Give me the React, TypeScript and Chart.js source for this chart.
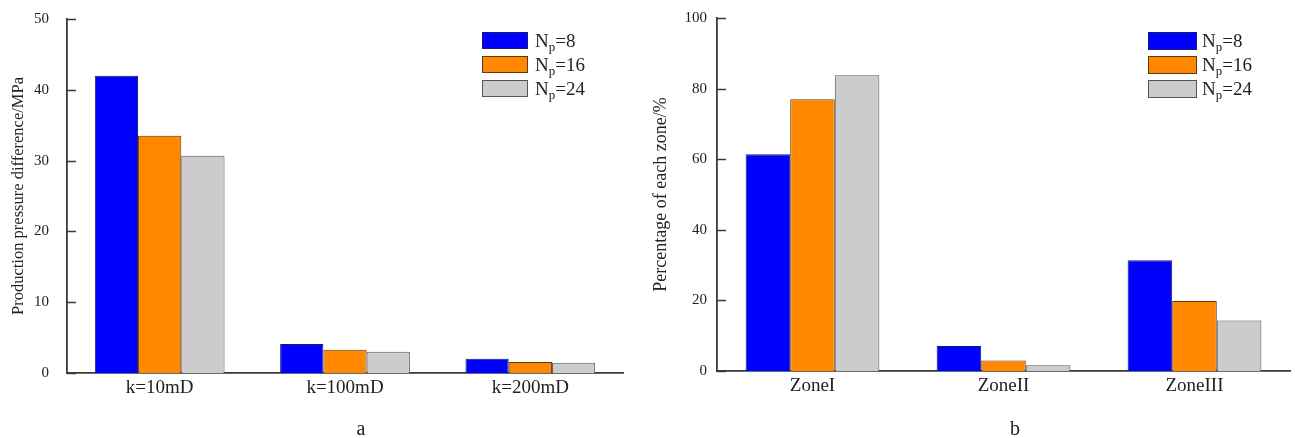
import React, { useEffect, useRef } from "react";
import { Chart, registerables } from "chart.js";

Chart.register(...registerables);

// ---------- data ----------
const permeabilityLabels = ["k=10mD", "k=100mD", "k=200mD"];
const zoneLabels = ["ZoneI", "ZoneII", "ZoneIII"];
const npValues = ["8", "16", "24"];

const pressureNp8 = [42.0, 4.1, 2.0];
const pressureNp16 = [33.5, 3.3, 1.55];
const pressureNp24 = [30.7, 3.0, 1.45];

const zoneNp8 = [61.4, 7.1, 31.4];
const zoneNp16 = [77.0, 2.95, 19.8];
const zoneNp24 = [83.8, 1.6, 14.3];

const pressureTickStep = 10;
const pressureMax = 50;
const zoneTickStep = 20;
const zoneMax = 100;

const pressureTitle = "Production pressure difference/MPa";
const zoneTitle = "Percentage of each zone/%";

// ---------- styles ----------
const FONT = "'Liberation Serif', 'Times New Roman', serif";
const fillColors = ["#0000ff", "#ff8800", "#cccccc"];
const edgeColors = ["#1a1a70", "#5a3a10", "#555555"];
const AXIS = "#3a3a3a";
const TEXT = "#222222";

type LegendCfg = { x: number; y: number; boxW: number; boxH: number; row: number; gap: number };

function makeLegendPlugin(cfg: LegendCfg) {
  return {
    id: "insideLegend",
    afterDraw(chart: any) {
      const ctx = chart.ctx;
      ctx.save();
      chart.data.datasets.forEach((ds: any, i: number) => {
        const top = cfg.y + i * cfg.row;
        ctx.fillStyle = ds.backgroundColor;
        ctx.fillRect(cfg.x, top, cfg.boxW, cfg.boxH);
        ctx.strokeStyle = ds.borderColor;
        ctx.lineWidth = 1;
        ctx.strokeRect(cfg.x + 0.5, top + 0.5, cfg.boxW - 1, cfg.boxH - 1);
        const base = top + cfg.boxH / 2 + 6;
        let tx = cfg.x + cfg.boxW + cfg.gap;
        ctx.fillStyle = TEXT;
        ctx.textBaseline = "alphabetic";
        ctx.textAlign = "left";
        ctx.font = `19px ${FONT}`;
        ctx.fillText("N", tx, base);
        tx += ctx.measureText("N").width;
        ctx.font = `13px ${FONT}`;
        ctx.fillText("p", tx, base + 4);
        tx += ctx.measureText("p").width;
        ctx.font = `19px ${FONT}`;
        ctx.fillText("=" + npValues[i], tx, base);
      });
      ctx.restore();
    },
  };
}

const inwardTicksPlugin = {
  id: "inwardTicks",
  afterDraw(chart: any) {
    const ctx = chart.ctx;
    const y = chart.scales.y;
    const left = chart.chartArea.left;
    ctx.save();
    ctx.strokeStyle = AXIS;
    ctx.lineWidth = 1.5;
    y.ticks.forEach((t: any) => {
      const py = Math.round(y.getPixelForValue(t.value)) + 0.5;
      ctx.beginPath();
      ctx.moveTo(left, py);
      ctx.lineTo(left + 9, py);
      ctx.stroke();
    });
    ctx.restore();
  },
};

type PanelCfg = {
  width: number;
  height: number;
  labels: string[];
  series: number[][];
  max: number;
  step: number;
  title: string;
  titleSize: number;
  yAxisWidth: number;
  padTop: number;
  padRight: number;
  plotBottom: number;
  tickPad: number;
  titlePad: number;
  legend: LegendCfg;
};

function BarPanel({ cfg }: { cfg: PanelCfg }) {
  const ref = useRef<HTMLCanvasElement | null>(null);
  useEffect(() => {
    if (!ref.current) return;
    const chart = new Chart(ref.current, {
      type: "bar",
      data: {
        labels: cfg.labels,
        datasets: cfg.series.map((vals, i) => ({
          label: "Np=" + npValues[i],
          data: vals,
          backgroundColor: fillColors[i],
          borderColor: edgeColors[i],
          borderWidth: 1,
          borderSkipped: "bottom",
          barPercentage: 1.0,
          categoryPercentage: 0.7,
        })),
      },
      options: {
        responsive: false,
        animation: false,
        devicePixelRatio: 1,
        layout: { padding: { left: 0, top: cfg.padTop, right: cfg.padRight, bottom: 0 } },
        plugins: {
          legend: { display: false },
          tooltip: { enabled: false },
        },
        scales: {
          x: {
            offset: true,
            grid: { display: false, drawTicks: false },
            border: { display: true, color: AXIS, width: 1.8 },
            ticks: { color: TEXT, font: { family: FONT, size: 19 }, padding: 4 },
            afterFit: (s: any) => {
              s.height = cfg.height - cfg.plotBottom;
              s.paddingLeft = 0;
              s.paddingRight = 0;
            },
          },
          y: {
            min: 0,
            max: cfg.max,
            grid: { display: false, drawTicks: false },
            border: { display: true, color: AXIS, width: 1.8 },
            ticks: {
              stepSize: cfg.step,
              color: TEXT,
              padding: cfg.tickPad,
              font: { family: FONT, size: 15 },
            },
            title: {
              display: true,
              text: cfg.title,
              color: TEXT,
              font: { family: FONT, size: cfg.titleSize },
              padding: { top: cfg.titlePad, bottom: 0 },
            },
            afterFit: (s: any) => {
              s.width = cfg.yAxisWidth;
              s.paddingTop = 0;
              s.paddingBottom = 0;
            },
          },
        },
      },
      plugins: [inwardTicksPlugin, makeLegendPlugin(cfg.legend)],
    } as any);
    return () => chart.destroy();
  }, []);
  return <canvas ref={ref} width={cfg.width} height={cfg.height} style={{ display: "block" }} />;
}

const panelA: PanelCfg = {
  width: 640,
  height: 438,
  labels: permeabilityLabels,
  series: [pressureNp8, pressureNp16, pressureNp24],
  max: pressureMax,
  step: pressureTickStep,
  title: pressureTitle,
  titleSize: 16.5,
  yAxisWidth: 67,
  padTop: 19,
  padRight: 640 - 623,
  plotBottom: 373,
  tickPad: 18,
  titlePad: 9,
  legend: { x: 482, y: 32, boxW: 46, boxH: 17, row: 24, gap: 7 },
};

const panelB: PanelCfg = {
  width: 655,
  height: 438,
  labels: zoneLabels,
  series: [zoneNp8, zoneNp16, zoneNp24],
  max: zoneMax,
  step: zoneTickStep,
  title: zoneTitle,
  titleSize: 18,
  yAxisWidth: 77,
  padTop: 18,
  padRight: 5,
  plotBottom: 371,
  tickPad: 10,
  titlePad: 10,
  legend: { x: 508, y: 32, boxW: 49, boxH: 18, row: 24, gap: 5 },
};

const captionStyle: React.CSSProperties = {
  position: "absolute",
  top: 416,
  fontFamily: FONT,
  fontSize: 20,
  color: TEXT,
  transform: "translateX(-50%)",
  lineHeight: "24px",
};

export default function App() {
  return (
    <div
      style={{
        position: "absolute",
        left: 0,
        top: 0,
        width: 1295,
        height: 438,
        background: "#ffffff",
        overflow: "hidden",
      }}
    >
      <div style={{ position: "absolute", left: 0, top: 0 }}>
        <BarPanel cfg={panelA} />
      </div>
      <div style={{ position: "absolute", left: 640, top: 0 }}>
        <BarPanel cfg={panelB} />
      </div>
      <div style={{ ...captionStyle, left: 361 }}>a</div>
      <div style={{ ...captionStyle, left: 1015 }}>b</div>
    </div>
  );
}
